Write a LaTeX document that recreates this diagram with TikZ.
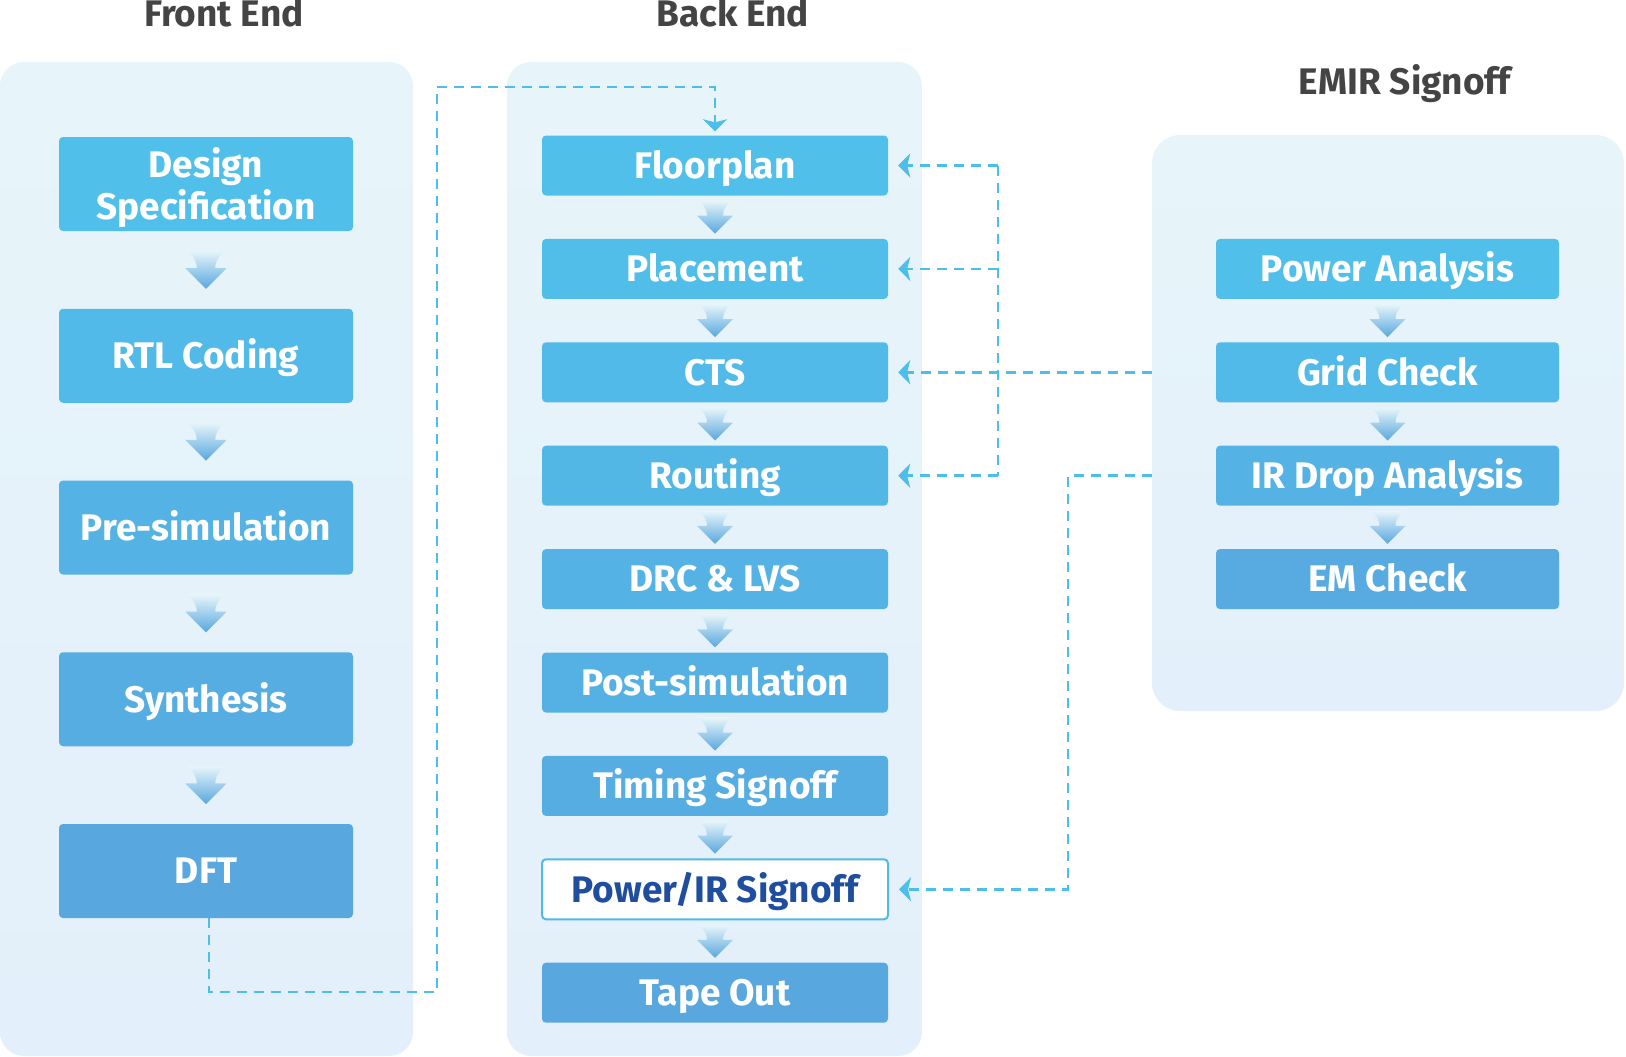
\documentclass[tikz,border=0pt]{standalone}
\usepackage{fontspec}
\setmainfont{Fira Sans}
\usetikzlibrary{arrows.meta,calc}
\definecolor{panelA}{HTML}{E7F5FA}
\definecolor{panelB}{HTML}{E3EFFA}
\definecolor{boxA}{HTML}{50C0EB}
\definecolor{boxB}{HTML}{58A7DE}
\definecolor{arrmid}{HTML}{4DBDEA}
\definecolor{dashc}{HTML}{4DBDEA}
\definecolor{titlec}{HTML}{444444}
\definecolor{darkblue}{HTML}{1F4E9F}
\tikzset{
  panel/.style={rounded corners=24pt, top color=panelA, bottom color=panelB, draw=none, inner sep=0pt},
  boxfont/.style={font=\fontsize{37}{40}\selectfont\bfseries},
  fbox/.style={rounded corners=4pt, minimum width=294pt, minimum height=94pt, text=white, boxfont, align=center, inner sep=0pt},
  bbox/.style={rounded corners=4pt, minimum width=346pt, minimum height=60pt, text=white, boxfont, align=center, inner sep=0pt, text height=25.5pt, text depth=0pt},
  ebox/.style={bbox, minimum width=343pt},
  one/.style={text height=25.5pt, text depth=0pt},
  mixed/.style={fill=boxB!#1!boxA},
  title/.style={text=titlec, font=\fontsize{37}{40}\selectfont\bfseries, anchor=base},
  fb/.style={draw=dashc, line width=2.6pt, dash pattern=on 10pt off 7pt},
  fbarr/.style={fb, -{Stealth[length=12pt,width=24pt,inset=3pt]}, shorten >=10pt},
  flowarr/.pic={\shade[top color=panelA, middle color=arrmid, bottom color=boxB]
     (-16,-16.5) -- (16,-16.5) .. controls (10,-11) and (8,-6) .. (8,-1.5) -- (18,-1.5) -- (0,16.5)
     -- (-18,-1.5) -- (-8,-1.5) .. controls (-8,-6) and (-10,-11) .. (-16,-16.5) -- cycle;}
}
\begin{document}
\begin{tikzpicture}[x=1pt,y=-1pt]
\useasboundingbox (0,0) rectangle (1626,1057);

% panels
\node[panel, minimum width=413pt, minimum height=994pt] (fp) at (206.5,559) {};
\node[panel, minimum width=415pt, minimum height=994pt] (bp) at (714.5,559) {};
\node[panel, minimum width=472pt, minimum height=576pt, rounded corners=28pt] (ep) at (1388,423) {};

% titles
\node[title] (tf) at (224,27) {Front End};
\node[title] (tb) at (732.5,27) {Back End};
\node[title] (te) at (1405,95) {EMIR Signoff};

% front end
\node[fbox, mixed=0]  (ds)  at (206,184) {\raisebox{-5pt}[\height][\depth]{\begin{tabular}{@{}c@{}}Design\\Specification\end{tabular}}};
\node[fbox, one, mixed=25] (rtl) at (206,355.75) {RTL Coding};
\node[fbox, one, mixed=50] (pre) at (206,527.5)  {Pre-simulation};
\node[fbox, one, mixed=75] (syn) at (206,699.25) {Synthesis};
\node[fbox, one, mixed=100](dft) at (206,871)    {DFT};

% back end
\node[bbox, mixed=0]   (flp) at (715,165.5) {Floorplan};
\node[bbox, mixed=12]  (plc) at (715,268.9) {Placement};
\node[bbox, mixed=25]  (cts) at (715,372.3) {CTS};
\node[bbox, mixed=37]  (rte) at (715,475.7) {Routing};
\node[bbox, mixed=50]  (drc) at (715,579.1) {DRC \& LVS};
\node[bbox, mixed=62]  (pst) at (715,682.5) {Post-simulation};
\node[bbox, mixed=75]  (tim) at (715,785.9) {Timing Signoff};
\node[bbox, fill=white, draw=arrmid!80!boxB, line width=2pt, text=darkblue] (pwr) at (715,889.3) {Power/IR Signoff};
\node[bbox, mixed=100] (tpo) at (715,992.7) {Tape Out};

% EMIR
\node[ebox, mixed=5]  (pa)  at (1387.5,268.9) {Power Analysis};
\node[ebox, mixed=25] (gc)  at (1387.5,372.3) {Grid Check};
\node[ebox, mixed=55] (ir)  at (1387.5,475.7) {IR Drop Analysis};
\node[ebox, mixed=85] (em)  at (1387.5,579.1) {EM Check};

% flow arrows
\foreach \a/\b in {ds/rtl,rtl/pre,pre/syn,syn/dft}
  \pic[scale=1.15] at ($(\a.south)!0.5!(\b.north)$) {flowarr};
\foreach \a/\b in {flp/plc,plc/cts,cts/rte,rte/drc,drc/pst,pst/tim,tim/pwr,pwr/tpo}
  \pic at ($(\a.south)!0.5!(\b.north)$) {flowarr};
\foreach \a/\b in {pa/gc,gc/ir,ir/em}
  \pic at ($(\a.south)!0.5!(\b.north)$) {flowarr};

% dashed connectors
\coordinate (dftout) at ($(dft.south)+(3,0)$);
\coordinate (c1) at (437,992);
\coordinate (c2) at (437,87);
\draw[fb, -{Stealth[length=12pt,width=24pt,inset=3pt]}, shorten >=4pt] (dftout) |- (c1) -- (c2) -| (flp.north);

\coordinate (vx) at (998,0);
\draw[fb] (flp.east -| vx) -- (rte.east -| vx);
\draw[fbarr] (flp.east -| vx) -- (flp.east);
\draw[fbarr] (plc.east -| vx) -- (plc.east);
\draw[fbarr] (rte.east -| vx) -- (rte.east);
\draw[fbarr] (ep.west |- cts.east) -- (cts.east);

\coordinate (vx2) at (1068,0);
\draw[fbarr] (ep.west |- ir.west) -- (vx2 |- ir.west) |- (pwr.east);
\end{tikzpicture}
\end{document}
